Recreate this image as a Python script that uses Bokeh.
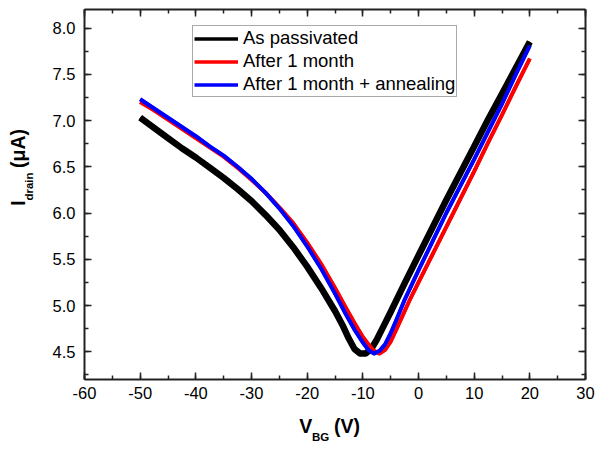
from bokeh.plotting import figure
from bokeh.models import (Range1d, LinearAxis, Legend, LegendItem,
                          SingleIntervalTicker, FixedTicker, CustomJSTickFormatter)
from bokeh.embed import file_html
from bokeh.resources import INLINE

# ---- data ----
x_black = [-50, -47.5, -45, -42.5, -40, -37.5, -35, -32.5, -30, -27.5, -25, -22.5,
           -20, -17.5, -15, -13.5, -12.5, -11.5, -10.5, -9.5, -8.5, -7.5, -6.5, -5,
           -2.5, 0, 2.5, 5, 7.5, 10, 12.5, 15, 17.5, 20]
y_black = [7.03, 6.92, 6.81, 6.70, 6.60, 6.49, 6.38, 6.26, 6.13, 5.98, 5.82, 5.63,
           5.42, 5.19, 4.94, 4.77, 4.64, 4.53, 4.48, 4.48, 4.53, 4.63, 4.75, 4.93,
           5.24, 5.54, 5.84, 6.14, 6.43, 6.72, 7.01, 7.29, 7.57, 7.85]

x_red = [-50, -47.5, -45, -42.5, -40, -37.5, -35, -32.5, -30, -27.5, -25, -22.5,
         -20, -17.5, -15, -13, -11.5, -10, -9, -8, -7, -6, -5, -4, -3, -1.5, 0,
         2.5, 5, 7.5, 10, 12.5, 15, 17.5, 20]
y_red = [7.20, 7.11, 7.01, 6.91, 6.81, 6.71, 6.61, 6.49, 6.36, 6.22, 6.06, 5.89,
         5.68, 5.45, 5.19, 4.97, 4.81, 4.66, 4.58, 4.51, 4.48, 4.52, 4.61, 4.74,
         4.87, 5.07, 5.25, 5.55, 5.85, 6.15, 6.45, 6.76, 7.06, 7.37, 7.67]

x_blue = [-50, -47.5, -45, -42.5, -40, -37.5, -35, -32.5, -30, -27.5, -25, -22.5,
          -20, -17.5, -15, -13, -11.5, -10, -9, -8, -7, -6, -5, -4, -2.5, 0, 2.5,
          5, 7.5, 10, 12.5, 15, 17.5, 20]
y_blue = [7.23, 7.13, 7.03, 6.93, 6.83, 6.72, 6.62, 6.50, 6.37, 6.22, 6.05, 5.86,
          5.64, 5.40, 5.13, 4.90, 4.74, 4.60, 4.52, 4.48, 4.51, 4.58, 4.70, 4.84,
          5.06, 5.38, 5.69, 6.00, 6.29, 6.58, 6.88, 7.18, 7.50, 7.81]

series_names = ["As passivated", "After 1 month", "After 1 month + annealing"]
series_colors = ["#000000", "#ff0000", "#0000ff"]

FONT = "Liberation Sans"
NB = "\u00a0"

p = figure(width=599, height=448, output_backend="svg", toolbar_location=None,
           x_range=Range1d(-60, 30), y_range=Range1d(4.2, 8.2),
           min_border_left=84, min_border_right=14, min_border_top=9,
           min_border_bottom=69, x_axis_location=None, y_axis_location=None)
p.outline_line_color = None
p.grid.visible = False
p.background_fill_color = "white"
p.border_fill_color = "white"


def style_ticks(ax):
    ax.axis_line_width = 2
    ax.axis_line_color = "#222222"
    ax.major_tick_line_color = "#222222"
    ax.minor_tick_line_color = "#222222"
    ax.major_tick_line_width = 1.5
    ax.minor_tick_line_width = 1.5
    ax.major_tick_in = 7
    ax.major_tick_out = 0
    ax.minor_tick_in = 4
    ax.minor_tick_out = 0


def title_axis(text, size, standoff):
    ax = LinearAxis(ticker=FixedTicker(ticks=[]))
    ax.axis_line_color = None
    ax.major_tick_in = 0
    ax.major_tick_out = 0
    ax.minor_tick_in = 0
    ax.minor_tick_out = 0
    ax.major_label_standoff = 0
    ax.axis_label = text
    ax.axis_label_text_font = FONT
    ax.axis_label_text_font_size = size
    ax.axis_label_text_font_style = "bold"
    ax.axis_label_text_color = "black"
    ax.axis_label_standoff = standoff
    return ax


# bottom axis with tick labels; its title carries "V    (V)", subscript below
xb = LinearAxis(ticker=SingleIntervalTicker(interval=10, num_minor_ticks=2),
                formatter=CustomJSTickFormatter(code="return tick.toFixed(0)"))
style_ticks(xb)
xb.major_label_text_font = FONT
xb.major_label_text_font_size = "16.5px"
xb.major_label_text_color = "black"
xb.major_label_standoff = 7
xb.axis_label = "V" + NB * 4 + "(V)" + NB * 2
xb.axis_label_text_font = FONT
xb.axis_label_text_font_size = "19.5px"
xb.axis_label_text_font_style = "bold"
xb.axis_label_text_color = "black"
xb.axis_label_standoff = 13
p.add_layout(xb, "below")
p.add_layout(title_axis("BG" + NB * 9, "11.5px", -9), "below")

# left axis with tick labels; its title carries the subscript "drain"
yl = LinearAxis(ticker=SingleIntervalTicker(interval=0.5, num_minor_ticks=2),
                formatter=CustomJSTickFormatter(code="return tick.toFixed(1)"))
style_ticks(yl)
yl.major_label_text_font = FONT
yl.major_label_text_font_size = "16.5px"
yl.major_label_text_color = "black"
yl.major_label_standoff = 9
yl.axis_label = NB * 5 + "drain"
yl.axis_label_text_font = FONT
yl.axis_label_text_font_size = "11.5px"
yl.axis_label_text_font_style = "bold"
yl.axis_label_text_color = "black"
yl.axis_label_standoff = 15
p.add_layout(yl, "left")
p.add_layout(title_axis(NB * 10 + "I" + NB * 6 + "(\u03bcA)", "19.5px", -9), "left")

# mirrored axes (ticks only)
for loc, interval in (("above", 10), ("right", 0.5)):
    ax = LinearAxis(ticker=SingleIntervalTicker(interval=interval, num_minor_ticks=2),
                    formatter=CustomJSTickFormatter(code="return ''"))
    style_ticks(ax)
    ax.major_label_standoff = 0
    ax.major_label_text_font_size = "1px"
    p.add_layout(ax, loc)

# legend proxies (thinner lines, hidden beneath the data lines)
proxies = [p.line(xs, ys, line_color=c, line_width=3.5)
           for xs, ys, c in ((x_black, y_black, series_colors[0]),
                             (x_red, y_red, series_colors[1]),
                             (x_blue, y_blue, series_colors[2]))]

r_black = p.line(x_black, y_black, line_color=series_colors[0], line_width=6.5,
                 line_join="round")
r_red = p.line(x_red, y_red, line_color=series_colors[1], line_width=4, line_join="round")
r_blue = p.line(x_blue, y_blue, line_color=series_colors[2], line_width=4, line_join="round")

legend = Legend(items=[LegendItem(label=n, renderers=[r]) for n, r in zip(series_names, proxies)],
                location=(108, 282))
legend.label_text_font = FONT
legend.label_text_font_size = "18.5px"
legend.label_text_color = "black"
legend.glyph_width = 44
legend.glyph_height = 21
legend.label_height = 21
legend.label_standoff = 5
legend.spacing = 1
legend.padding = 1
legend.margin = 0
legend.border_line_color = "#555555"
legend.border_line_width = 1
legend.background_fill_alpha = 1
p.add_layout(legend, "center")

open("out.html", "w").write(file_html(p, INLINE))
